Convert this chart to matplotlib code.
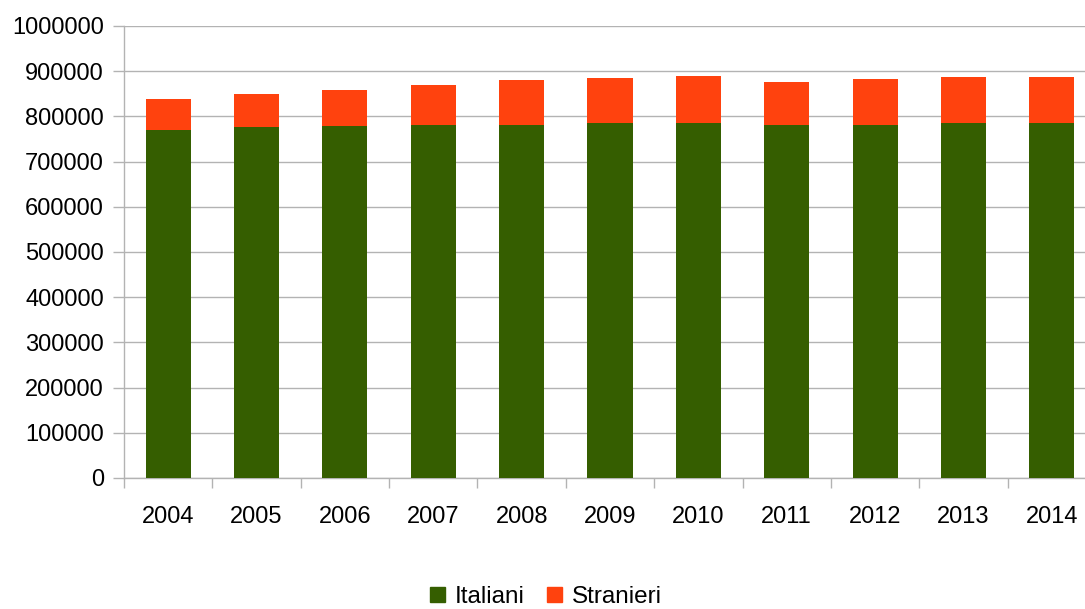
import matplotlib.pyplot as plt
from matplotlib.patches import Patch
import numpy as np

plt.rcParams['font.family'] = ['Liberation Sans', 'DejaVu Sans']

years = ['2004', '2005', '2006', '2007', '2008', '2009', '2010', '2011', '2012', '2013', '2014']
italiani = [771000, 775500, 778000, 780000, 782000, 784500, 784500, 780000, 782000, 784500, 786500]
totale = [838000, 849000, 858000, 869000, 880000, 884500, 889000, 875500, 882000, 886500, 886500]
stranieri = [t - i for t, i in zip(totale, italiani)]

col_ita = '#355E00'
col_str = '#FF420E'
grey = '#b3b3b3'

fig = plt.figure(figsize=(10.85, 6.09), dpi=100)
# plot area runs a little past the right edge of the figure
ax = fig.add_axes([124 / 1085, 131 / 609, 972 / 1085, 452 / 609])

x = np.arange(len(years))
ax.bar(x, italiani, width=0.51, color=col_ita, zorder=3)
ax.bar(x, stranieri, width=0.51, bottom=italiani, color=col_str, zorder=3)

ax.set_xlim(-0.5, len(years) - 0.5)
ax.set_ylim(0, 1000000)
ax.set_yticks(np.arange(0, 1000001, 100000))
ax.set_yticklabels([str(v) for v in range(0, 1000001, 100000)])
ax.set_xticks(x)
ax.set_xticklabels(years)
ax.set_xticks(np.arange(-0.5, len(years), 1), minor=True)

ax.grid(axis='y', color=grey, linewidth=1, zorder=0)
for s in ['top', 'right']:
    ax.spines[s].set_visible(False)
for s in ['left', 'bottom']:
    ax.spines[s].set_color(grey)
    ax.spines[s].set_linewidth(1)

ax.tick_params(axis='x', which='major', length=0, pad=20, labelsize=17)
ax.tick_params(axis='x', which='minor', length=7.5, color=grey, width=1)
ax.tick_params(axis='y', length=8, color=grey, width=1, pad=6.5, labelsize=17)

handles = [Patch(color=col_ita, label='Italiani'), Patch(color=col_str, label='Stranieri')]
fig.legend(handles=handles, loc='center', bbox_to_anchor=(546 / 1085, 1 - 597 / 609),
           ncol=2, frameon=False, fontsize=17.5, handlelength=0.62, handleheight=0.62,
           handletextpad=0.4, columnspacing=0.9)

fig.savefig('out.png', dpi=100)
